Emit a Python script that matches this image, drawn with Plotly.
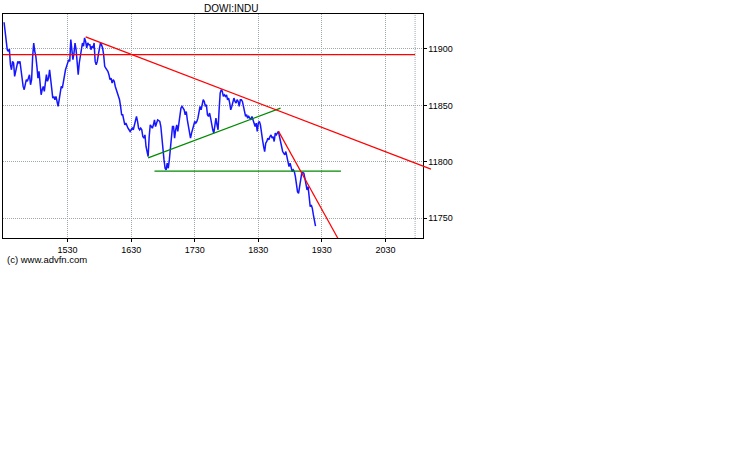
import plotly.graph_objects as go

# DOWI:INDU intraday, one price per minute starting 14:30
start_minute = 14 * 60 + 30
prices = [
    11923.7, 11915.7, 11905.3, 11899.4, 11897.9, 11900.0, 11886.1, 11881.6, 11889.0, 11887.6,
    11875.7, 11880.2, 11884.6, 11889.0, 11887.6, 11889.0, 11881.6, 11872.8, 11866.8, 11863.9,
    11869.8, 11872.8, 11871.3, 11875.7, 11877.2, 11868.3, 11872.8, 11893.5, 11905.3, 11897.9,
    11893.5, 11884.6, 11874.2, 11880.2, 11866.8, 11859.4, 11863.9, 11866.8, 11862.4, 11869.8,
    11877.2, 11871.3, 11874.2, 11881.6, 11872.8, 11863.9, 11856.5, 11858.0, 11855.0, 11858.0,
    11853.5, 11849.1, 11855.0, 11860.9, 11866.8, 11865.4, 11871.3, 11875.7, 11881.6, 11884.6,
    11887.6, 11890.5, 11889.0, 11908.3, 11899.4, 11890.5, 11896.4, 11905.3, 11899.4, 11884.6,
    11877.2, 11887.6, 11893.5, 11899.4, 11905.3, 11902.4, 11909.8, 11906.8, 11900.9, 11905.3,
    11903.8, 11903.8, 11899.4, 11902.4, 11900.9, 11905.3, 11889.0, 11886.1, 11889.0, 11895.0,
    11902.4, 11905.3, 11903.8, 11900.9, 11895.0, 11884.6, 11883.1, 11881.6, 11880.2, 11877.2,
    11872.8, 11874.2, 11869.8, 11872.8, 11871.3, 11866.8, 11863.9, 11859.4, 11856.5, 11855.0,
    11849.1, 11841.7, 11841.7, 11837.2, 11832.8, 11834.3, 11831.3, 11829.8, 11828.4, 11826.9,
    11828.4, 11829.8, 11828.4, 11832.8, 11837.2, 11840.2, 11835.8, 11829.8, 11828.4, 11829.8,
    11828.4, 11822.4, 11821.0, 11823.9, 11813.6, 11807.6, 11804.7, 11822.4, 11832.8, 11831.3,
    11829.8, 11832.8, 11837.2, 11831.3, 11834.3, 11837.2, 11836.6, 11835.8, 11831.3, 11819.5,
    11813.6, 11801.7, 11794.3, 11792.8, 11798.8, 11794.3, 11801.7, 11813.6, 11825.4, 11831.3,
    11831.3, 11821.0, 11828.4, 11832.8, 11826.9, 11834.3, 11841.7, 11847.6, 11849.1, 11847.6,
    11846.1, 11841.7, 11844.6, 11837.2, 11832.8, 11826.9, 11821.0, 11825.4, 11828.4, 11832.8,
    11835.8, 11834.3, 11835.8, 11838.7, 11846.1, 11849.1, 11846.1, 11852.0, 11855.0, 11853.5,
    11849.1, 11850.6, 11841.7, 11840.2, 11843.2, 11838.7, 11832.8, 11828.4, 11825.4, 11832.8,
    11838.7, 11832.8, 11828.4, 11846.1, 11860.9, 11863.9, 11862.4, 11858.0, 11859.4, 11858.0,
    11859.4, 11855.0, 11856.5, 11852.0, 11846.1, 11849.1, 11853.5, 11856.5, 11853.5, 11852.0,
    11855.0, 11853.5, 11849.1, 11855.0, 11855.0, 11853.5, 11849.1, 11843.2, 11840.2, 11841.7,
    11838.7, 11840.2, 11838.7, 11837.2, 11840.2, 11837.2, 11832.8, 11831.3, 11834.3, 11826.9,
    11834.3, 11835.8, 11832.8, 11823.9, 11819.5, 11813.6, 11809.1, 11816.5, 11818.0, 11821.0,
    11819.5, 11822.4, 11823.9, 11821.0, 11822.4, 11818.0, 11825.4, 11823.9, 11825.4, 11826.9,
    11822.4, 11816.5, 11813.6, 11809.1, 11807.6, 11806.2, 11809.1, 11804.7, 11801.7, 11795.8,
    11798.8, 11794.3, 11791.4, 11792.8, 11791.4, 11786.9, 11779.5, 11773.6, 11772.1, 11779.5,
    11785.4, 11789.9, 11790.5, 11789.9, 11785.4, 11779.5, 11775.1, 11778.0, 11769.2, 11760.3,
    11761.8, 11758.8, 11752.9, 11748.4, 11743.1,
]
minutes = list(range(start_minute, start_minute + len(prices)))

tick_minutes = [930, 990, 1050, 1110, 1170, 1230]
tick_labels = ["1530", "1630", "1730", "1830", "1930", "2030"]
price_ticks = [11750, 11800, 11850, 11900]
price_labels = ["11750", "11800", "11850", "11900"]

# lines drawn on the chart: (minute, price) end points
resist_x = [947, 1273]
resist_y = [11910.7, 11793.5]
support_x = [1006, 1131]
support_y = [11803.5, 11847.6]
floor_x = [1012, 1188]
floor_y = [11791.7, 11791.7]
slide_x = [1129, 1186]
slide_y = [11827.2, 11730.7]
level_x = [869, 1258]
level_y = [11895, 11895]
close_minute = 1258

x_range = [869, 1265]
y_range = [11732.5, 11931]

# plot box 419.5px wide, extra strip on the right so the long red line can run past the frame
box_w = 419.5
area_w = 437
dom_end = box_w / area_w
x2_range = [x_range[0], x_range[0] + (x_range[1] - x_range[0]) / dom_end]

grid = "#9ea8a8"
font = "Liberation Sans, Arial, sans-serif"

fig = go.Figure()

fig.add_trace(go.Scatter(x=minutes, y=prices, mode="lines",
                         line=dict(color="#1515ff", width=1.5)))
fig.add_trace(go.Scatter(x=level_x, y=level_y, mode="lines",
                         line=dict(color="#ff0000", width=1.2)))
fig.add_trace(go.Scatter(x=support_x, y=support_y, mode="lines",
                         line=dict(color="#008a00", width=1.2)))
fig.add_trace(go.Scatter(x=floor_x, y=floor_y, mode="lines",
                         line=dict(color="#008a00", width=1.2)))
fig.add_trace(go.Scatter(x=slide_x, y=slide_y, mode="lines",
                         line=dict(color="#ff0000", width=1.2)))
fig.add_trace(go.Scatter(x=resist_x, y=resist_y, mode="lines", xaxis="x2", yaxis="y2",
                         line=dict(color="#ff0000", width=1.2)))

fig.add_shape(type="line", xref="x", yref="paper", x0=close_minute, x1=close_minute,
              y0=0, y1=1, line=dict(color=grid, width=1, dash="1px,1px"), layer="below")

fig.update_layout(
    width=738, height=475,
    margin=dict(l=3, r=738 - 3 - area_w, t=14, b=237),
    paper_bgcolor="white", plot_bgcolor="rgba(0,0,0,0)",
    showlegend=False,
    font=dict(family=font, size=9, color="black"),
    xaxis=dict(domain=[0, dom_end], range=x_range, tickvals=tick_minutes, ticktext=tick_labels,
               showline=True, linecolor="black", linewidth=1, mirror=True,
               ticks="outside", ticklen=3, tickcolor="black",
               showgrid=True, gridcolor=grid, griddash="1px,1px", gridwidth=1, zeroline=False),
    yaxis=dict(range=y_range, side="right", tickvals=price_ticks, ticktext=price_labels,
               showline=True, linecolor="black", linewidth=1, mirror=True,
               ticks="outside", ticklen=3, tickcolor="black",
               showgrid=True, gridcolor=grid, griddash="1px,1px", gridwidth=1, zeroline=False),
    xaxis2=dict(domain=[0, 1], range=x2_range, visible=False, anchor="y2"),
    yaxis2=dict(range=y_range, visible=False, anchor="x2"),
    annotations=[
        dict(text="DOWI:INDU", xref="paper", yref="paper",
             x=(230.5 - 3) / area_w, y=1 + 6 / 224, xanchor="center", yanchor="middle",
             showarrow=False, font=dict(size=10)),
        dict(text="(c) www.advfn.com", xref="paper", yref="paper",
             x=2 / area_w, y=-21 / 224, xanchor="left", yanchor="middle",
             showarrow=False, font=dict(size=9.5)),
    ],
)

# page has the default body margin; drop it so the chart sits at the window corner
fig.write_html("out.html", config={"displayModeBar": False},
               post_script="document.body.style.margin = '0';")
